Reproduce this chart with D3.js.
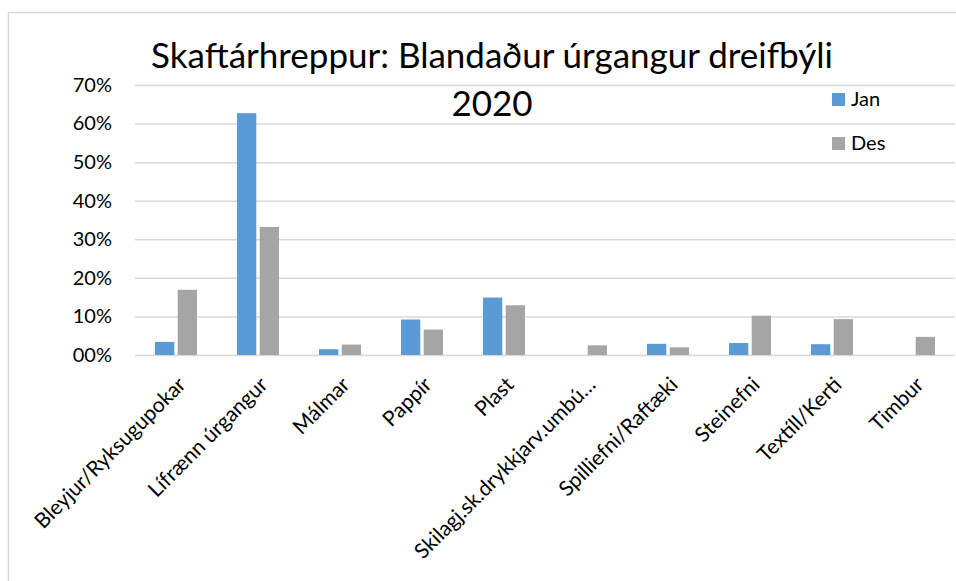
<!DOCTYPE html>
<html>
<head>
<meta charset="utf-8">
<script src="https://cdn.jsdelivr.net/npm/d3@7"></script>
<style>
  body { margin: 0; background: #fff; }
  text { font-family: Lato, "Open Sans", sans-serif; fill: #000; }
</style>
</head>
<body>
<div id="chart"></div>
<script>
// Chart values
let categories = ['Bleyjur/Ryksugupokar', 'Lífrænn úrgangur', 'Málmar', 'Pappír', 'Plast',
  'Skilagj.sk.drykkjarv.umbú…', 'Spilliefni/Raftæki', 'Steinefni', 'Textíll/Kerti', 'Timbur'];
let seriesNames = ['Jan', 'Des'];
let janValues = [0.034, 0.627, 0.015, 0.092, 0.149, 0, 0.029, 0.031, 0.028, 0];
let desValues = [0.169, 0.332, 0.027, 0.066, 0.129, 0.025, 0.020, 0.102, 0.093, 0.047];
let yTicks = [0, 0.1, 0.2, 0.3, 0.4, 0.5, 0.6, 0.7];
let titleLines = ['Skaftárhreppur: Blandaður úrgangur dreifbýli', '2020'];

let colors = { Jan: '#5b9bd5', Des: '#a5a5a5' };

let svgWidth = 956;
let svgHeight = 581;

let plot = { left: 135, right: 955, top: 85, bottom: 355 };

let svg = d3.select('#chart')
  .append('svg')
  .attr('width', svgWidth)
  .attr('height', svgHeight);

// chart border
svg.append('rect')
  .attr('x', 8.5)
  .attr('y', 12.5)
  .attr('width', 980)
  .attr('height', 600)
  .attr('fill', 'none')
  .attr('stroke', '#d9d9d9')
  .attr('stroke-width', 1.5);

// scales
let x0 = d3.scaleBand()
  .domain(categories)
  .range([plot.left, plot.right])
  .paddingInner(0.488)
  .paddingOuter(0.244);

let x1 = d3.scaleBand()
  .domain(seriesNames)
  .range([0, x0.bandwidth()])
  .paddingInner(0.15);

let y = d3.scaleLinear()
  .domain([0, 0.7])
  .range([plot.bottom, plot.top]);

// y axis + gridlines
let leftAxis = d3.axisLeft(y)
  .tickValues(yTicks)
  .tickFormat(d3.format('03.0%'))
  .tickSize(-(plot.right - plot.left))
  .tickPadding(23);

let yAxis = svg.append('g')
  .attr('transform', `translate(${plot.left}, 0)`)
  .call(leftAxis);

yAxis.select('.domain').remove();
yAxis.selectAll('line')
  .attr('stroke', '#d9d9d9')
  .attr('stroke-width', 1.5);
yAxis.selectAll('text')
  .attr('font-size', '20px')
  .attr('font-family', 'Lato, sans-serif')
  .attr('fill', '#000');

// x axis labels, rotated
let bottomAxis = d3.axisBottom(x0).tickSize(0);

let xAxis = svg.append('g')
  .attr('transform', `translate(0, ${plot.bottom})`)
  .call(bottomAxis);

xAxis.select('.domain').remove();
xAxis.selectAll('text')
  .attr('font-size', '21px')
  .attr('font-family', 'Lato, sans-serif')
  .attr('fill', '#000')
  .attr('text-anchor', 'end')
  .attr('x', 0)
  .attr('y', 0)
  .attr('dy', 0)
  .attr('transform', 'translate(11, 31) rotate(-45)');

// bars
let rows = categories.map((c, i) => ({ category: c, Jan: janValues[i], Des: desValues[i] }));

let groups = svg.append('g')
  .selectAll('g')
  .data(rows)
  .enter()
  .append('g')
  .attr('transform', d => `translate(${x0(d.category)}, 0)`);

groups.selectAll('rect')
  .data(d => seriesNames.map(s => ({ key: s, value: d[s] })))
  .enter()
  .append('rect')
  .attr('x', d => x1(d.key))
  .attr('y', d => y(d.value))
  .attr('width', x1.bandwidth())
  .attr('height', d => plot.bottom - y(d.value))
  .attr('fill', d => colors[d.key]);

// title
let title = svg.append('g');
let line1 = title.append('text')
  .attr('x', 492)
  .attr('y', 68)
  .attr('text-anchor', 'middle')
  .attr('font-size', '32px')
  .text(titleLines[0]);

// fit first title line to the width in the picture
let w = line1.node().getComputedTextLength();
let titleSize = 32 * 682 / w;
line1.attr('font-size', titleSize + 'px');

title.append('text')
  .attr('x', 492)
  .attr('y', 116)
  .attr('text-anchor', 'middle')
  .attr('font-size', titleSize + 'px')
  .text(titleLines[1]);

// legend
let legend = svg.append('g')
  .attr('transform', 'translate(832, 93)');

let legendItems = legend.selectAll('g')
  .data(seriesNames)
  .enter()
  .append('g')
  .attr('transform', (d, i) => `translate(0, ${i * 44})`);

legendItems.append('rect')
  .attr('width', 13)
  .attr('height', 13)
  .attr('fill', d => colors[d]);

legendItems.append('text')
  .attr('x', 19)
  .attr('y', 13)
  .attr('font-size', '20px')
  .text(d => d);
</script>
</body>
</html>
